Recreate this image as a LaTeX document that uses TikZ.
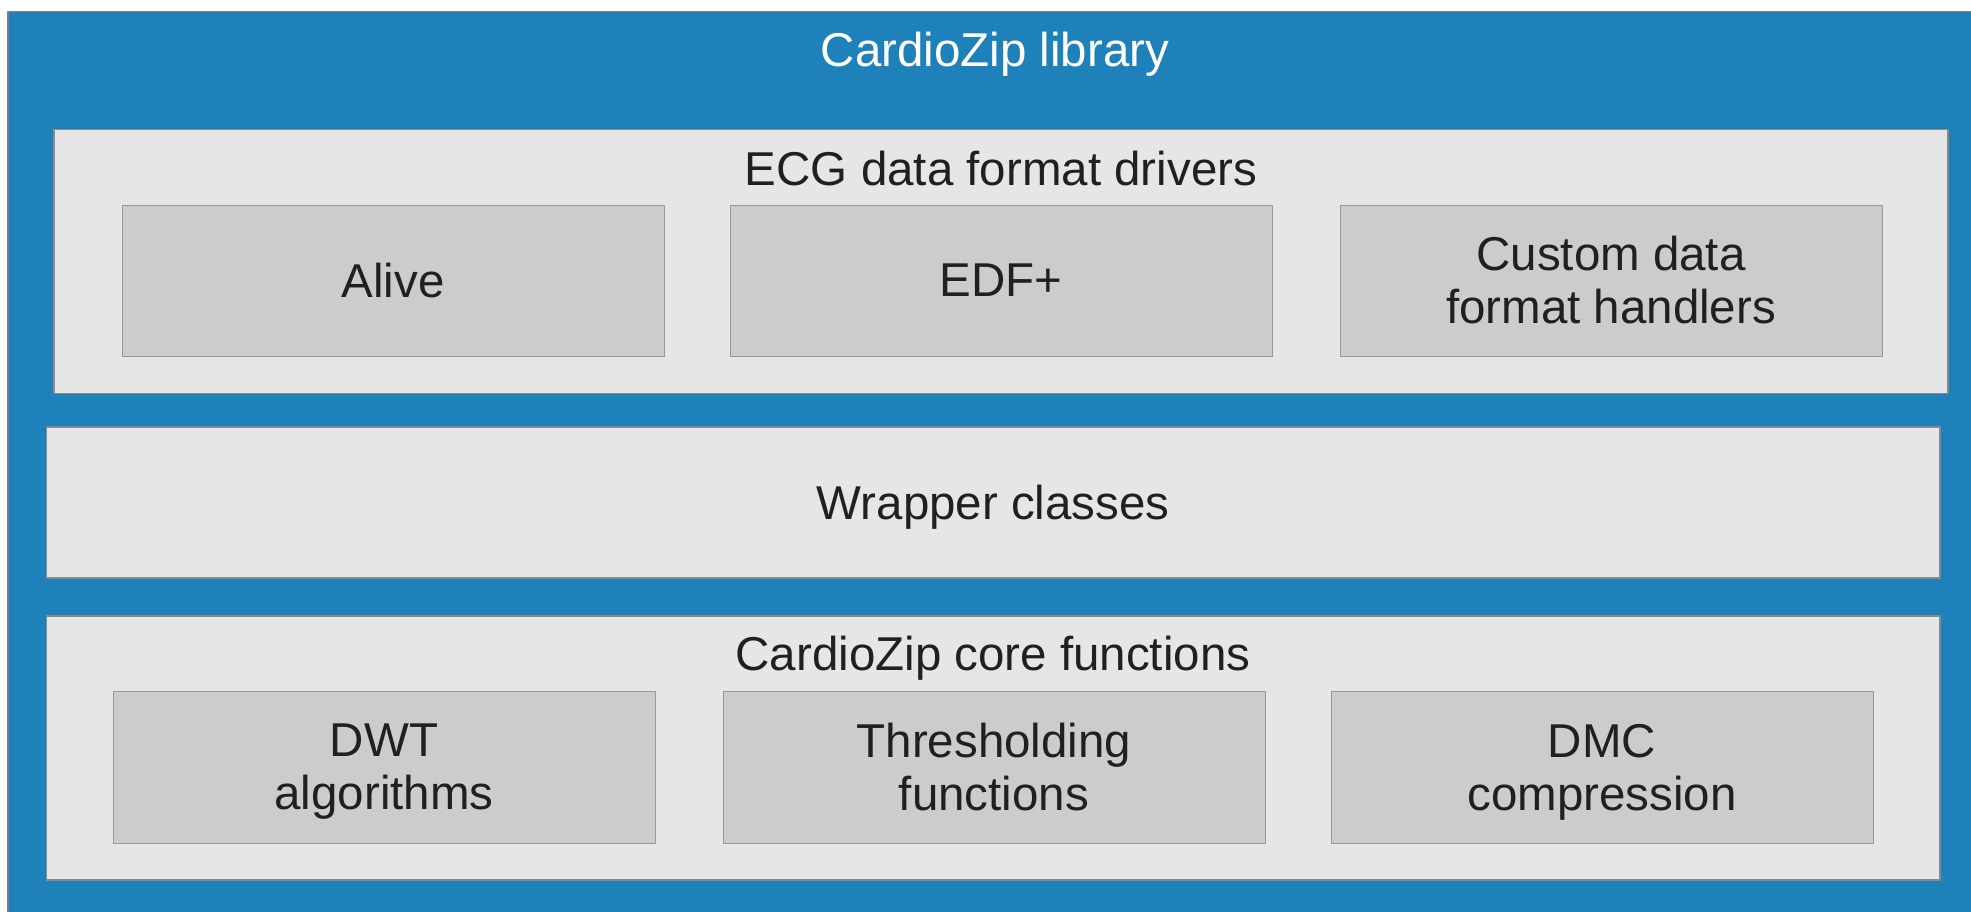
\documentclass[tikz,border=0pt]{standalone}
\usepackage{fontspec}
\setmainfont{Liberation Sans}
\definecolor{czblue}{HTML}{1E81B9}
\definecolor{libborder}{HTML}{7F7F7F}
\definecolor{secfill}{HTML}{E6E6E6}
\definecolor{secborder}{HTML}{8A8A8A}
\definecolor{partfill}{HTML}{CCCCCC}
\definecolor{partborder}{HTML}{999999}
\definecolor{txt}{HTML}{231F20}
\newcommand{\lblfont}{\fontsize{47.5}{53}\selectfont}
\newcommand{\nodp}[1]{\raisebox{0pt}[\height][0pt]{#1}}
\begin{document}
\begin{tikzpicture}[x=1pt,y=-1pt,
  libbox/.style={draw=libborder, fill=czblue, line width=1.2pt, inner sep=0pt, rectangle},
  section/.style={draw=secborder, fill=secfill, line width=1.2pt, inner sep=0pt, rectangle, minimum width=1893.5pt},
  part/.style={draw=partborder, fill=partfill, line width=1pt, inner sep=0pt, rectangle,
    minimum width=542pt, minimum height=151pt, align=center, font=\lblfont, text=txt},
  heading/.style={font=\lblfont, text=txt, inner sep=0pt, anchor=base},
  libtitle/.style={font=\lblfont, text=white, inner sep=0pt, anchor=base}]
\useasboundingbox (0,0) rectangle (1971,911);
\begin{scope}
\clip (0,0) rectangle (1971,911);
\node[libbox, minimum width=1992pt, minimum height=928.5pt] (lib) at (1004,475.75) {};
\end{scope}
\node[libtitle] (libt) at (995,66.6) {CardioZip library};
% ECG section
\node[section, minimum width=1894pt, minimum height=264pt] (ecg) at (1001,261.5) {};
\node[heading] (ecgt) at (1001,185) {ECG data format drivers};
\node[part] (alive) at (393,280.5) {Alive};
\node[part] (edf) at (1001,280.5) {EDF+};
\node[part] (custom) at (1611,280.5) {Custom data\\format handlers};
% Wrapper
\node[section, minimum height=151pt, font=\lblfont, text=txt] (wrap) at (993.25,502.5) {\nodp{Wrapper classes}};
% Core
\node[section, minimum height=264pt] (core) at (993.25,748) {};
\node[heading] (coret) at (993,670) {CardioZip core functions};
\node[part, minimum height=152pt] (dwt) at (384,767) {DWT\\\nodp{algorithms}};
\node[part, minimum height=152pt] (thr) at (994,767) {Thresholding\\functions};
\node[part, minimum height=152pt] (dmc) at (1602,767) {DMC\\\nodp{compression}};
\end{tikzpicture}
\end{document}
